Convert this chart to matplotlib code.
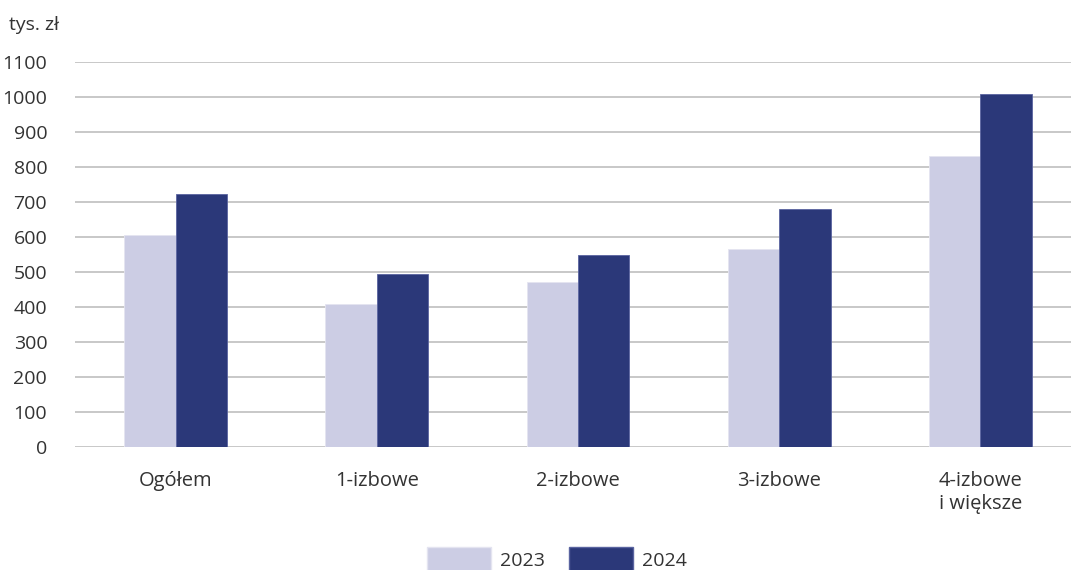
import numpy as np
import matplotlib.pyplot as plt
from matplotlib.patches import Patch

plt.rcParams['font.family'] = ['Open Sans', 'DejaVu Sans']

categories = ['Ogółem', '1-izbowe', '2-izbowe', '3-izbowe', '4-izbowe\ni większe']
v2023 = [607, 408, 471, 565, 832]
v2024 = [724, 495, 549, 679, 1008]
years = ['2023', '2024']
yticks = list(range(0, 1101, 100))

c23 = '#cccde4'
c24 = '#2b3879'
txt = '#333333'

fig = plt.figure(figsize=(10.71, 5.70), dpi=100)
ax = fig.add_axes([0.07, 0.2158, 0.93, 0.6754])

x = np.arange(len(categories))
w = 0.255
ax.bar(x - w / 2, v2023, w, color=c23, edgecolor='#e4e4f0', linewidth=0.6, zorder=3)
ax.bar(x + w / 2, v2024, w, color=c24, edgecolor='#5a64a0', linewidth=0.6, zorder=3)

ax.set_xlim(-0.5, 4.45)
ax.set_ylim(0, 1100)
ax.set_yticks(yticks)
ax.set_yticklabels([str(t) for t in yticks], fontsize=14, color=txt)
ax.set_xticks(x)
ax.set_xticklabels([])
ax.tick_params(axis='x', length=0)
ax.tick_params(axis='y', length=0, pad=20)

# category labels as text so the two-line one stays left aligned
for xi, cat in zip(x, categories):
    ax.text(xi, -0.063, cat, transform=ax.get_xaxis_transform(), fontsize=14.5, color=txt,
            ha='center', va='top', multialignment='left', linespacing=1.2)

ax.grid(axis='y', color='#c4c4c4', linewidth=1.3, zorder=0)
for s in ax.spines.values():
    s.set_visible(False)

fig.text(0.008, 0.957, 'tys. zł', fontsize=14, color=txt, va='center', ha='left')

handles = [Patch(facecolor=c23, edgecolor='#e4e4f0'), Patch(facecolor=c24, edgecolor='#5a64a0')]
fig.legend(handles, years, loc='center', bbox_to_anchor=(0.520, 0.018), ncol=2, frameon=False,
           fontsize=14, handlelength=3.3, handleheight=1.7, columnspacing=1.24, handletextpad=0.46,
           labelcolor=txt)

fig.savefig('out.png', dpi=100)
